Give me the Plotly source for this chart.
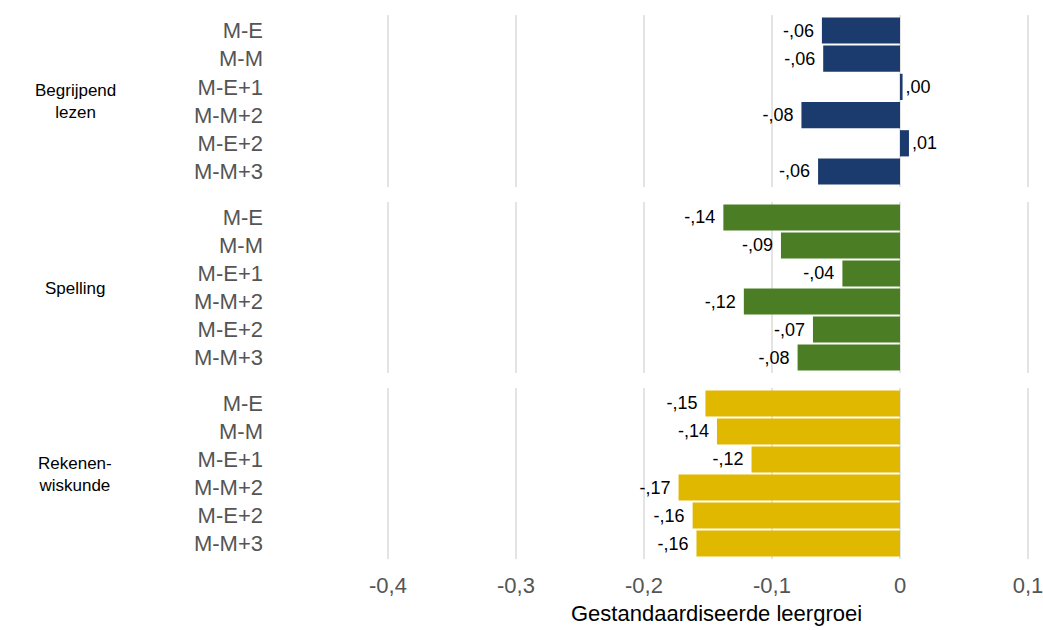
import plotly.graph_objects as go

W, H = 1043, 630

categories = ["M-E", "M-M", "M-E+1", "M-M+2", "M-E+2", "M-M+3"]
groups = ["Begrijpend<br>lezen", "Spelling", "Rekenen-<br>wiskunde"]

lezen = [-0.061, -0.060, 0.002, -0.077, 0.007, -0.064]
spelling = [-0.138, -0.093, -0.045, -0.122, -0.068, -0.080]
rekenen = [-0.152, -0.143, -0.116, -0.173, -0.162, -0.159]

lezen_text = ["-,06", "-,06", ",00", "-,08", ",01", "-,06"]
spelling_text = ["-,14", "-,09", "-,04", "-,12", "-,07", "-,08"]
rekenen_text = ["-,15", "-,14", "-,12", "-,17", "-,16", "-,16"]

x_tickvals = [-0.4, -0.3, -0.2, -0.1, 0, 0.1]
x_ticktext = ["-0,4", "-0,3", "-0,2", "-0,1", "0", "0,1"]
x_title = "Gestandaardiseerde leergroei"

colors = ["#1b3a6e", "#4a7d24", "#e1b800"]

series = [lezen, spelling, rekenen]
texts = [lezen_text, spelling_text, rekenen_text]

FONT = "Liberation Sans, Arial, sans-serif"

# panel pixel extents (top, bottom)
panels_px = [(15, 187), (202, 373), (388, 559)]
L, R = 260, 12
plot_w = W - L - R
x_range = [-0.5, -0.5 + plot_w / 1280]

fig = go.Figure()
layout = {}
for i, (vals, txt, col, (top, bot)) in enumerate(zip(series, texts, colors, panels_px)):
    n = i + 1
    xa = "x" if n == 1 else f"x{n}"
    ya = "y" if n == 1 else f"y{n}"
    # padding so the labels sit a little away from the bar ends
    padded = [t + "\u00a0" if v < 0 else t for t, v in zip(txt, vals)]
    fig.add_trace(go.Bar(
        x=vals, y=categories, orientation="h",
        marker=dict(color=col, line=dict(width=0)),
        text=padded, textposition="outside", cliponaxis=False,
        textfont=dict(family=FONT, size=18, color="#000000"),
        xaxis=xa, yaxis=ya, showlegend=False, hoverinfo="skip",
    ))
    layout[f"xaxis{'' if n == 1 else n}"] = dict(
        range=x_range, anchor=ya, domain=[0, 1], automargin=False,
        tickvals=x_tickvals, ticktext=x_ticktext,
        showticklabels=(n == 3), showgrid=True, gridcolor="#e4e4e4", gridwidth=2,
        zeroline=False, showline=False, ticks="", ticklabelstandoff=11,
        ticklabeloverflow="allow",
        tickfont=dict(family=FONT, size=22, color="#555555"),
    )
    layout[f"yaxis{'' if n == 1 else n}"] = dict(
        anchor=xa, domain=[1 - bot / H, 1 - top / H], automargin=False,
        categoryorder="array", categoryarray=categories,
        range=[5.55, -0.55], showgrid=False, zeroline=False, showline=False, ticks="",
        ticklabelstandoff=-4,
        tickfont=dict(family=FONT, size=22, color="#555555"),
    )
    fig.add_annotation(
        text=groups[i], xref="paper", yref="paper",
        x=(75 - L) / plot_w, y=1 - ((top + bot) / 2 + 1) / H,
        xanchor="center", yanchor="middle", showarrow=False, align="center",
        font=dict(family=FONT, size=17, color="#000000"),
    )

fig.add_annotation(
    text=x_title, xref="paper", yref="paper",
    x=(716 - L) / plot_w, y=1 - 613 / H,
    xanchor="center", yanchor="middle", showarrow=False,
    font=dict(family=FONT, size=22, color="#000000"),
)

fig.update_layout(
    **layout,
    width=W, height=H,
    margin=dict(l=L, r=R, t=0, b=0),
    bargap=0.07,
    plot_bgcolor="white", paper_bgcolor="white",
)

fig.write_html("out.html", config={"displayModeBar": False},
               post_script="document.body.style.margin='0px';")
